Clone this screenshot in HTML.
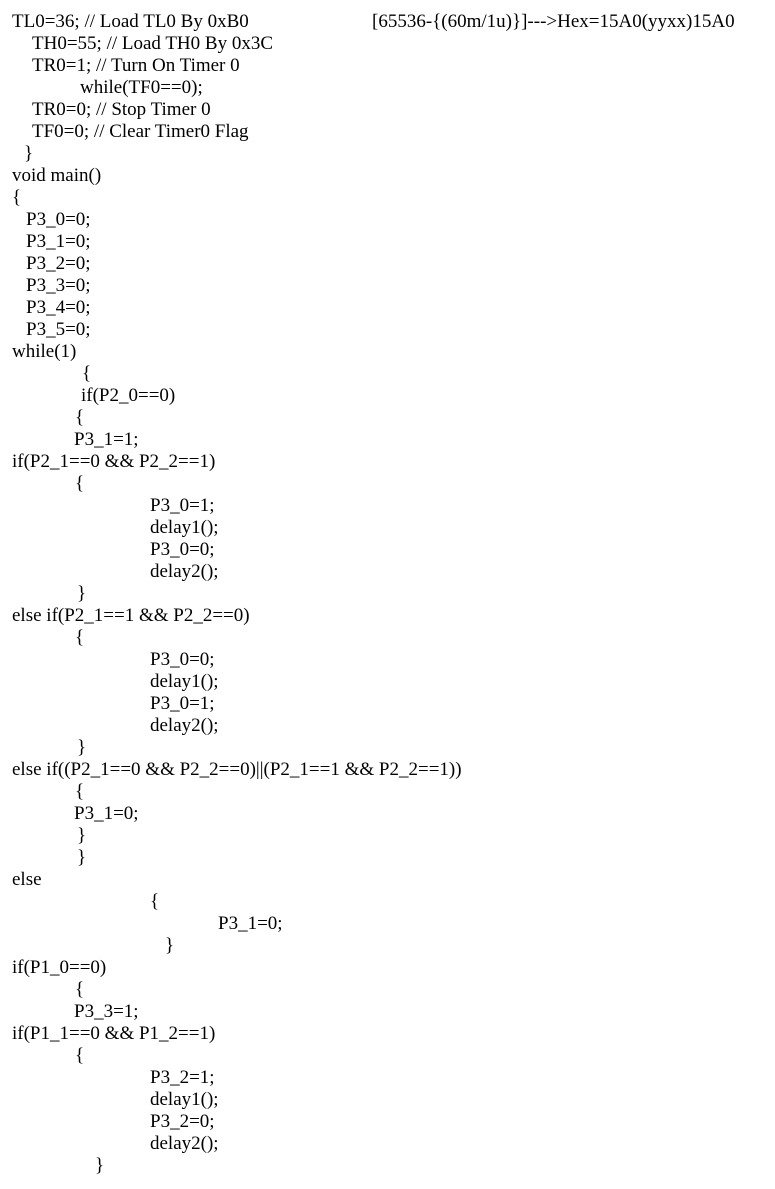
<!DOCTYPE html>
<html><head><meta charset="utf-8"><style>
html,body{margin:0;padding:0;background:#fff;width:775px;height:1189px;overflow:hidden;}
div{position:absolute;font-family:"Liberation Serif",serif;font-size:19px;line-height:22px;color:#000;white-space:pre;}
</style></head><body>
<div style="left:12px;top:11px">TL0=36; // Load TL0 By 0xB0</div>
<div style="left:372px;top:11px">[65536-{(60m/1u)}]---&gt;Hex=15A0(yyxx)15A0</div>
<div style="left:32px;top:33px">TH0=55; // Load TH0 By 0x3C</div>
<div style="left:32px;top:55px">TR0=1; // Turn On Timer 0</div>
<div style="left:80px;top:77px">while(TF0==0);</div>
<div style="left:32px;top:99px">TR0=0; // Stop Timer 0</div>
<div style="left:32px;top:121px">TF0=0; // Clear Timer0 Flag</div>
<div style="left:24px;top:143px">}</div>
<div style="left:12px;top:165px">void main()</div>
<div style="left:12px;top:187px">{</div>
<div style="left:26px;top:209px">P3_0=0;</div>
<div style="left:26px;top:231px">P3_1=0;</div>
<div style="left:26px;top:253px">P3_2=0;</div>
<div style="left:26px;top:275px">P3_3=0;</div>
<div style="left:26px;top:297px">P3_4=0;</div>
<div style="left:26px;top:319px">P3_5=0;</div>
<div style="left:12px;top:341px">while(1)</div>
<div style="left:82px;top:363px">{</div>
<div style="left:81px;top:385px">if(P2_0==0)</div>
<div style="left:75px;top:407px">{</div>
<div style="left:74px;top:429px">P3_1=1;</div>
<div style="left:12px;top:451px">if(P2_1==0 &amp;&amp; P2_2==1)</div>
<div style="left:75px;top:473px">{</div>
<div style="left:150px;top:495px">P3_0=1;</div>
<div style="left:150px;top:517px">delay1();</div>
<div style="left:150px;top:539px">P3_0=0;</div>
<div style="left:150px;top:561px">delay2();</div>
<div style="left:77px;top:583px">}</div>
<div style="left:12px;top:605px">else if(P2_1==1 &amp;&amp; P2_2==0)</div>
<div style="left:75px;top:627px">{</div>
<div style="left:150px;top:649px">P3_0=0;</div>
<div style="left:150px;top:671px">delay1();</div>
<div style="left:150px;top:693px">P3_0=1;</div>
<div style="left:150px;top:715px">delay2();</div>
<div style="left:77px;top:737px">}</div>
<div style="left:12px;top:759px">else if((P2_1==0 &amp;&amp; P2_2==0)||(P2_1==1 &amp;&amp; P2_2==1))</div>
<div style="left:75px;top:781px">{</div>
<div style="left:74px;top:803px">P3_1=0;</div>
<div style="left:77px;top:825px">}</div>
<div style="left:77px;top:847px">}</div>
<div style="left:12px;top:869px">else</div>
<div style="left:150px;top:891px">{</div>
<div style="left:218px;top:913px">P3_1=0;</div>
<div style="left:165px;top:935px">}</div>
<div style="left:12px;top:957px">if(P1_0==0)</div>
<div style="left:75px;top:979px">{</div>
<div style="left:74px;top:1001px">P3_3=1;</div>
<div style="left:12px;top:1023px">if(P1_1==0 &amp;&amp; P1_2==1)</div>
<div style="left:75px;top:1045px">{</div>
<div style="left:150px;top:1067px">P3_2=1;</div>
<div style="left:150px;top:1089px">delay1();</div>
<div style="left:150px;top:1111px">P3_2=0;</div>
<div style="left:150px;top:1133px">delay2();</div>
<div style="left:95px;top:1155px">}</div>
</body></html>
